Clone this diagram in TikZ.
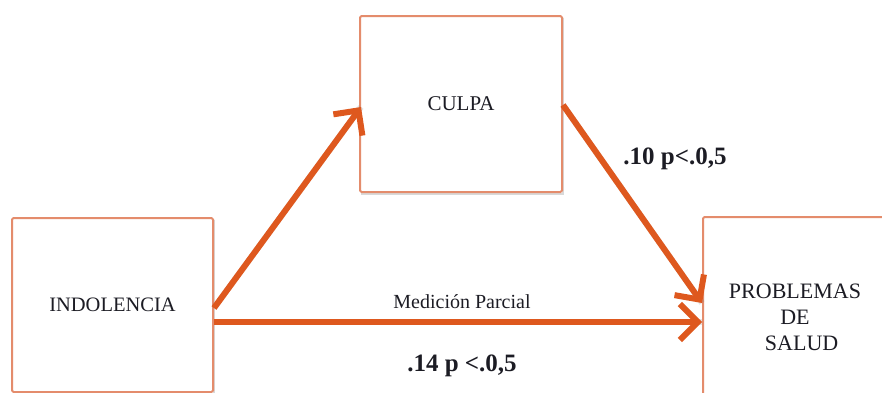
\documentclass[tikz,border=0pt]{standalone}
\usepackage{fontspec}
\setmainfont{Liberation Serif}
\usetikzlibrary{arrows.meta,calc,shadows}
\definecolor{boxline}{RGB}{228,140,108}
\definecolor{arrowline}{RGB}{222,88,30}
\definecolor{inktext}{RGB}{28,28,36}
\tikzset{
  varbox/.style={draw=boxline, line width=2pt, fill=white, rounded corners=1.5pt,
    text=inktext, align=center},
  boxshadow/.style={draw=gray, opacity=0.3, line width=2.5pt},
  path/.style={draw=arrowline, line width=6pt,
    -{Straight Barb[length=18pt, width=36pt, line width=6pt]}},
  pathshadow/.style={draw=gray, opacity=0.22, line width=6pt},
  coef/.style={text=inktext, font=\fontsize{25}{28}\selectfont\bfseries},
}
\begin{document}
\begin{tikzpicture}[x=1pt, y=-1pt]
  \useasboundingbox (0,0) rectangle (882,392);
  \clip (0,0) rectangle (882,392);
  % soft shadows along the lower edges of the boxes
  \draw[boxshadow] (361,194) -- (563,194) -- (563,18);
  \draw[boxshadow] (214,220) -- (214,394);
  % variable boxes
  \node[varbox, minimum width=202pt, minimum height=176pt,
        font=\fontsize{21}{24}\selectfont] (culpa) at (461,104) {CULPA};
  \node[varbox, minimum width=201pt, minimum height=174pt,
        font=\fontsize{20.5}{24}\selectfont] (indo) at (112.5,305) {INDOLENCIA};
  \node[varbox, minimum width=184pt, minimum height=200pt,
        font=\fontsize{22}{26}\selectfont] (prob) at (795,317)
        {PROBLEMAS\\DE\\\hspace*{0.6em}SALUD};
  % anchor points of the paths
  \coordinate (aStart) at ($(indo.east)+(0,3)$);
  \coordinate (aEnd)   at ($(culpa.west)+(2,3)$);
  \coordinate (bStart) at ($(culpa.east)+(0,1)$);
  \coordinate (bEnd)   at ($(prob.west)+(0,-14)$);
  \coordinate (cStart) at ($(indo.east)+(0,17)$);
  \coordinate (cEnd)   at ($(prob.west)+(0,5)$);
  % soft shadows under the paths
  \begin{scope}[shift={(1,2.5)}]
    \draw[pathshadow] (aStart) -- (aEnd);
    \draw[pathshadow] (bStart) -- (bEnd);
    \draw[pathshadow] (cStart) -- (cEnd);
  \end{scope}
  % paths
  \draw[path] (aStart) -- (aEnd);
  \draw[path] (bStart) -- (bEnd);
  \draw[path] (cStart) -- (cEnd);
  % labels
  \node[text=inktext, font=\fontsize{20}{23}\selectfont] (partial) at (462,302) {Medición Parcial};
  \node[coef] (c14) at (462,366) {.14 p <.0,5};
  \node[coef] (c10) at (675,159) {.10 p<.0,5};
\end{tikzpicture}
\end{document}
